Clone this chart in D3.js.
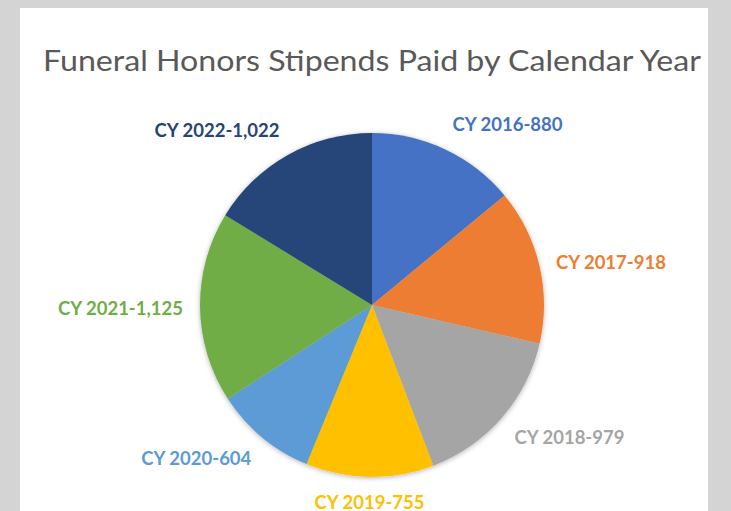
<!DOCTYPE html>
<html><head><meta charset="utf-8">
<script src="https://cdn.jsdelivr.net/npm/d3@7"></script>
<style>html,body{margin:0;padding:0;background:#d4d4d4;}svg{display:block;}</style>
</head><body>
<svg id="chart" width="731" height="511"></svg>
<script>
const categories = ["CY 2016","CY 2017","CY 2018","CY 2019","CY 2020","CY 2021","CY 2022"];
const values = [880, 918, 979, 755, 604, 1125, 1022];
const labels = ["CY 2016-880","CY 2017-918","CY 2018-979","CY 2019-755","CY 2020-604","CY 2021-1,125","CY 2022-1,022"];
const colors = ["#4472C4","#ED7D31","#A5A5A5","#FFC000","#5B9BD5","#70AD47","#264478"];
const title = "Funeral Honors Stipends Paid by Calendar Year";

const W = 731, H = 511;
const svg = d3.select("#chart");
const defs = svg.append("defs");
const f = defs.append("filter").attr("id","sh").attr("x","-20%").attr("y","-20%").attr("width","140%").attr("height","140%");
f.append("feDropShadow").attr("dx",0).attr("dy",1).attr("stdDeviation",2.5).attr("flood-color","#000").attr("flood-opacity",0.3);

svg.append("rect").attr("x",20).attr("y",8).attr("width",688).attr("height",H-8).attr("fill","#ffffff");

const t = svg.append("text").attr("x",372).attr("y",71).attr("text-anchor","middle")
  .attr("font-family","Lato, 'Open Sans', sans-serif").attr("font-weight",400)
  .attr("font-size",29).attr("fill","#595959").text(title);
t.attr("textLength", 658).attr("lengthAdjust","spacingAndGlyphs");

const cx = 372, cy = 305, r = 172;
const pie = d3.pie().sort(null).value(d => d)(values);
const arc = d3.arc().innerRadius(0).outerRadius(r);
const g = svg.append("g").attr("transform",`translate(${cx},${cy})`);
g.append("g").attr("filter","url(#sh)").selectAll("path").data(pie).join("path")
  .attr("d", arc).attr("fill",(d,i)=>colors[i]);

const lr = r + 17;
pie.forEach((d,i) => {
  const a = (d.startAngle + d.endAngle)/2;
  const s = Math.sin(a), c = Math.cos(a);
  const px = lr*s, py = -lr*c;
  const txt = g.append("text").attr("font-family","Lato, 'Open Sans', sans-serif").attr("font-weight",700)
    .attr("font-size",18.5).attr("fill",colors[i]).text(labels[i]);
  const h = 14;
  let anchor = "middle";
  if (s > 0.3) anchor = "start"; else if (s < -0.3) anchor = "end";
  let y;
  if (c > 0.3) y = py - 3; else if (c < -0.3) y = py + h + 1; else y = py + h/2;
  txt.attr("x", px).attr("y", y).attr("text-anchor", anchor);
});
</script>
</body></html>
